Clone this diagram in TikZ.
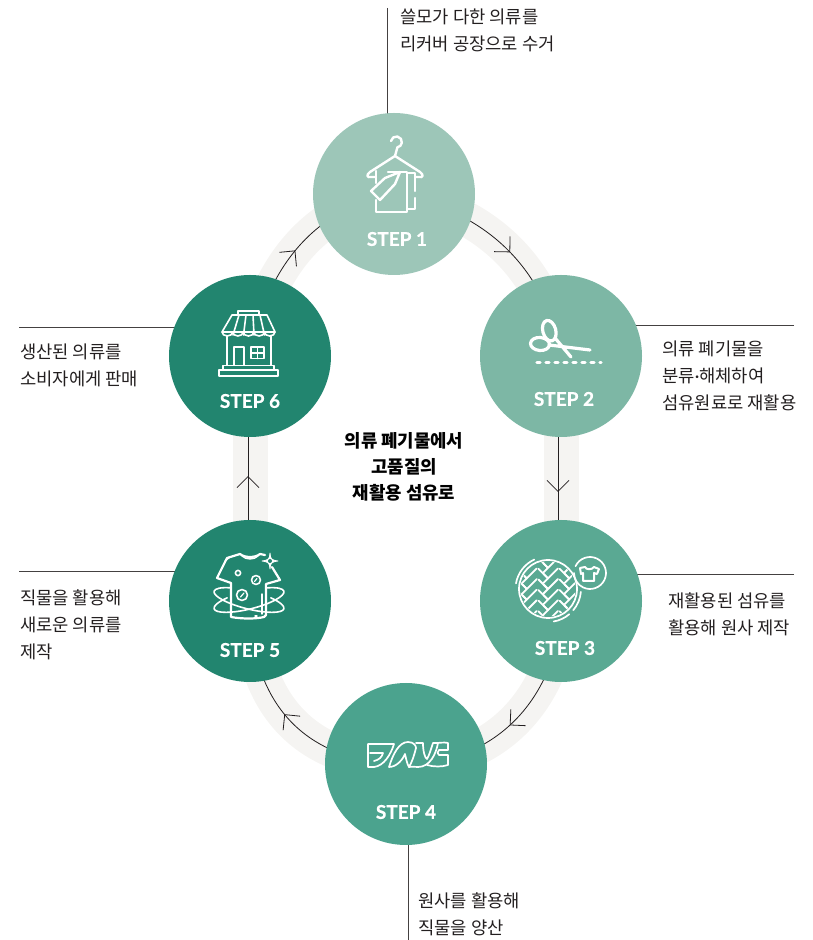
\documentclass[tikz,border=0pt]{standalone}
\usepackage{fontspec}
\setmainfont{Noto Sans CJK KR}
\newfontfamily\stepfont[BoldFeatures={FakeBold=.6}]{Lato}
\usetikzlibrary{positioning, shapes, arrows.meta, decorations.markings, backgrounds}
\definecolor{stepa}{HTML}{9DC6B8}
\definecolor{stepb}{HTML}{7DB7A5}
\definecolor{stepc}{HTML}{5AA993}
\definecolor{stepd}{HTML}{4BA38E}
\definecolor{stepe}{HTML}{22856F}
\definecolor{ringbg}{HTML}{F5F4F2}
\definecolor{inkline}{HTML}{231F20}
\tikzset{%
  icon/.style={draw=white, line width=2.4pt, line join=round, line cap=round},
  hanger/.pic={%
    \draw [icon] (-3,53) arc (170:-80:5.5) -- (1,38) -- (-24,22) .. controls (-28,19) and (-27,16) .. (-23,17) -- (-18,17);
    \draw [icon] (1,38) -- (26,22) .. controls (30,19) and (29,16) .. (25,17) -- (21,17);
    \draw [icon] (-18,23) -- (-18,11) (-18,-6) -- (-18,-18) -- (13,-18) -- (13,22) -- (-6,22);
    \draw [icon] (-23,3) -- (-9,16) -- (6,22) -- (1,10) -- (-14,-6) -- cycle;
    \draw [icon] (13,21) -- (21,21) -- (21,3) (21,-4) -- (21,-15) -- (13,-15);
  },
  scissors/.pic={%
    \draw [icon, line width=3.2pt, rotate around={15:(-11.7,25.3)}] (-11.7,25.3) ellipse [x radius=6.5, y radius=10.5];
    \draw [icon, line width=3.2pt, rotate around={-5:(-21,12)}] (-21,12) ellipse [x radius=9.5, y radius=6.5];
    \draw [icon, line width=3.2pt] (-12,11) -- (29,6) (-6,18) -- (10,-1);
    \draw [icon, line width=3.4pt, dash pattern=on 3pt off 6pt] (-24,-6.5) -- (40,-6.5);
  },
  weave/.pic={%
    \draw [icon, line width=1.7pt] (-13,12) circle [radius=29];
    \draw [icon, line width=1.7pt] (-13,12) ++(170:32.5) arc (170:115:32.5);
    \draw [icon, line width=1.7pt] (-13,12) ++(-5:33) arc (-5:-40:33) (-13,12) ++(-50:33) arc (-50:-80:33);
    \begin{scope}
      \clip (-13,12) circle [radius=27.5];
      \begin{scope}[shift={(-13,12)}, rotate=45]
        \foreach \u in {-5,...,5} {
          \foreach \v in {-3,...,3} {
            \begin{scope}[shift={(\u*7.5+\v*30,\u*7.5)}]
              \draw [icon, line width=1.8pt] (0,6.5) -- (0,0) -- (14,0);
              \draw [icon, line width=1.8pt] (16,-7.5) -- (22.5,-7.5) -- (22.5,6);
            \end{scope}
          }
        }
      \end{scope}
    \end{scope}
    \draw [icon, line width=1.7pt] (29,28) ++(155:16) arc (155:-180:16);
    \draw [icon, line width=2pt] (19,33) -- (24,34) .. controls (25,31) and (31,31) .. (33,34) -- (38,32) -- (36,27) -- (33,28) -- (33,20) -- (22,20) -- (22,28) -- (20,27) -- cycle;
  },
  fabric/.pic={%
    \draw [icon, line width=1.7pt] (-38,20) -- (-12,20) .. controls (-15,10) and (-22,-2) .. (-32,-3) -- (-38,-3) -- cycle;
    \draw [icon, line width=1.7pt] (-36,11) -- (-23,11) .. controls (-24,7) and (-27,4) .. (-32,3);
    \draw [icon, line width=1.7pt] (-17,-3) .. controls (-13,10) and (-7,22) .. (2,22) .. controls (8,22) and (10,18) .. (10,16) .. controls (8,8) and (6,2) .. (3,-3) .. controls (1,0) and (0,6) .. (-1,10) .. controls (-3,5) and (-9,-3) .. (-17,-3) -- cycle;
    \draw [icon, line width=1.7pt] (10,21) -- (17,21) .. controls (17,12) and (19,6) .. (21,5) .. controls (23,8) and (25,15) .. (27,21) -- (32,21) .. controls (30,10) and (24,-3) .. (12,-3) .. controls (8,-3) and (5,-2) .. (3,-3);
    \draw [icon, line width=1.7pt] (30,21) .. controls (34,21) and (38,22) .. (42,21) -- (42,14) -- (33,14) .. controls (31,12) and (31,10) .. (33,9) -- (42,9) -- (42,-1) .. controls (36,-3) and (28,-3) .. (21,-1);
  },
  tshirt/.pic={%
    \draw [icon, line width=2.2pt] (-19,-16) -- (-19,18) -- (-33,23) -- (-23,43) -- (-10,47) .. controls (-5,43) and (5,43) .. (10,47) -- (15,46) (22,34) -- (30,21) -- (16,17) -- (16,-14) -- (14,-16) .. controls (6,-18) and (-8,-18) .. (-19,-16);
    \draw [icon, line width=1.4pt] (-8,45) .. controls (-4,41) and (4,41) .. (8,45) (-25,40) -- (-20,44);
    \draw [icon, line width=1.6pt] (-12,28) circle [radius=2.6] (6,21) circle [radius=4.5] (-8,6) circle [radius=5.5];
    \draw [icon, line width=1.2pt] (4.5,19.5) -- (7,22.5) (-9.5,4) -- (-6,8);
    \draw [icon, fill=white, line width=.8pt] (20,48) .. controls (20.5,42) and (21,41) .. (28,40) .. controls (21,39) and (20.5,38) .. (20,32) .. controls (19.5,38) and (19,39) .. (12,40) .. controls (19,41) and (19.5,42) .. (20,48) -- cycle;
    \fill [stepe] (20,40) circle [radius=2];
    \draw [icon, line width=1.6pt, rotate around={14:(-1,1)}] (35,1) arc [start angle=0, end angle=-180, x radius=36, y radius=9]
    (35,1) arc [start angle=0, end angle=55, x radius=36, y radius=9] (-37,1) arc [start angle=180, end angle=125, x radius=36, y radius=9];
    \draw [icon, line width=1.6pt, rotate around={-14:(-1,1)}] (35,1) arc [start angle=0, end angle=-180, x radius=36, y radius=9]
    (35,1) arc [start angle=0, end angle=55, x radius=36, y radius=9] (-37,1) arc [start angle=180, end angle=125, x radius=36, y radius=9];
    \draw [icon, line width=1.4pt] (12,7) -- (12,-13) (5,-15) -- (7,-15);
  },
  shop/.pic={%
    \draw [icon, line width=1.6pt] (-12,41) -- (-12,45) -- (9,45) -- (9,41);
    \draw [icon, line width=1.6pt] (-18,41) -- (17,41) -- (25,24) -- (-28,24) -- cycle;
    \draw [icon, line width=1.6pt] (-28,24) foreach \i in {0,...,4} {arc [start angle=180, end angle=360, x radius=5.3, y radius=4]};
    \foreach \a/\b in {-11/-17,-4/-6.5,3/4,10/14.5} {\draw [icon, line width=1.6pt] (\a,41) -- (\b,21);}
    \draw [icon, line width=1.6pt] (-23,20) -- (-23,-9) (21,20) -- (21,-9);
    \draw [icon, line width=1.6pt] (-16,-9) -- (-16,9) -- (-6,9) -- (-6,-9);
    \draw [icon, line width=1.6pt] (1,-2.5) rectangle (14,9) (7.5,9) -- (7.5,-2.5) (1,3.2) -- (14,3.2);
    \draw [icon, line width=1.6pt] (-27,-14) -- (-27,-9.5) -- (24,-9.5) -- (24,-14);
    \draw [icon, line width=1.6pt] (-31,-14) rectangle (28,-20);
  },
}
\begin{document}
\begin{tikzpicture}
    [x=1pt, y=1pt,
    stepdisc/.style={circle, minimum size=162pt, inner sep=0pt},
    steptext/.style={font=\stepfont\bfseries\fontsize{19}{22}\selectfont, text=white, inner sep=0pt},
    note/.style={anchor=west, align=left, inner sep=0pt, text=inkline, font=\fontsize{17.7}{27}\selectfont},
    leader/.style={draw=inkline!85, line width=.8pt},
    band/.style={draw=ringbg, line width=35pt},
    link/.style={draw=inkline, line width=.8pt, postaction={decorate},
    decoration={markings, mark=at position #1 with {\arrow[line width=.8pt]{Straight Barb[length=11pt, width=22pt]}}}}]
    \useasboundingbox (0,0) rectangle (813,940);
    \node [stepdisc, fill=stepe] (step6) at (250,584) {};
    \node [stepdisc, fill=stepe, below of=step6, node distance=245pt] (step5) {};
    \node [stepdisc, fill=stepb, right of=step6, node distance=311pt] (step2) {};
    \node [stepdisc, fill=stepc, below of=step2, node distance=245pt] (step3) {};
    \node [stepdisc, fill=stepa] (step1) at (394,746) {};
    \node [stepdisc, fill=stepd] (step4) at (406,176) {};

    \node [steptext] (label1) at (397,701) {STEP 1};
    \node [steptext] (label2) at (564,541) {STEP 2};
    \node [steptext] (label3) at (565,292) {STEP 3};
    \node [steptext] (label4) at (406,128) {STEP 4};
    \node [steptext] (label5) at (250,290) {STEP 5};
    \node [steptext] (label6) at (250,539) {STEP 6};

    \pic at (step1.center) {hanger};
    \pic at (step2.center) {scissors};
    \pic at (step3.center) {weave};
    \pic at (step4.center) {fabric};
    \pic at (step5.center) {tshirt};
    \pic at (step6.center) {shop};

    \node [note] (note1) at (400,910) {쓸모가 다한 의류를\\리커버 공장으로 수거};
    \node [note] (note2) at (662,564) {의류 폐기물을\\분류{\stepfont ·}해체하여\\섬유원료로 재활용};
    \node [note] (note3) at (668,326) {재활용된 섬유를\\활용해 원사 제작};
    \node [note] (note4) at (418,26) {원사를 활용해\\직물을 양산};
    \node [note] (note5) at (20,315) {직물을 활용해\\새로운 의류를\\제작};
    \node [note] (note6) at (20,575) {생산된 의류를\\소비자에게 판매};
    \node [align=center, inner sep=0pt, text=black, font=\bfseries\fontsize{17.8}{26}\selectfont] (title) at (404,473)
    {의류 폐기물에서\\고품질의\\재활용 섬유로};

    \coordinate (lead1) at (387,932);
    \coordinate (lead2) at (794,615);
    \coordinate (lead3) at (794,366);
    \coordinate (lead4) at (408,0);
    \coordinate (lead5) at (19,369);
    \coordinate (lead6) at (19,613);

    \begin{scope}[on background layer]
      \foreach \from/\to/\o/\i/\l/\p in {step6/step1/80/-170/1/.5, step1/step2/-10/100/1/.53, step3/step4/-90/0/1.05/.55, step4/step5/180/-90/1.15/.53} {
        \draw [band] (\from.center) to [out=\o, in=\i, looseness=\l] (\to.center);
        \draw [link=\p] (\from.center) to [out=\o, in=\i, looseness=\l] (\to.center);
      }
      \draw [band] (step2.center) -- (step3.center);
      \draw [band] (step5.center) -- (step6.center);
      \draw [link=.555] ([xshift=-3pt]step2.center) -- ([xshift=-3pt]step3.center);
      \draw [link=.51] ([xshift=-2pt]step5.center) -- ([xshift=-2pt]step6.center);
      \draw [leader] (lead1) -- (lead1 |- step1.center);
      \draw [leader] (lead2) -- (lead2 -| step2.center);
      \draw [leader] (lead3) -- (lead3 -| step3.center);
      \draw [leader] (lead4) -- (lead4 |- step4.center);
      \draw [leader] (lead5) -- (lead5 -| step5.center);
      \draw [leader] (lead6) -- (lead6 -| step6.center);
    \end{scope}
\end{tikzpicture}
\end{document}
